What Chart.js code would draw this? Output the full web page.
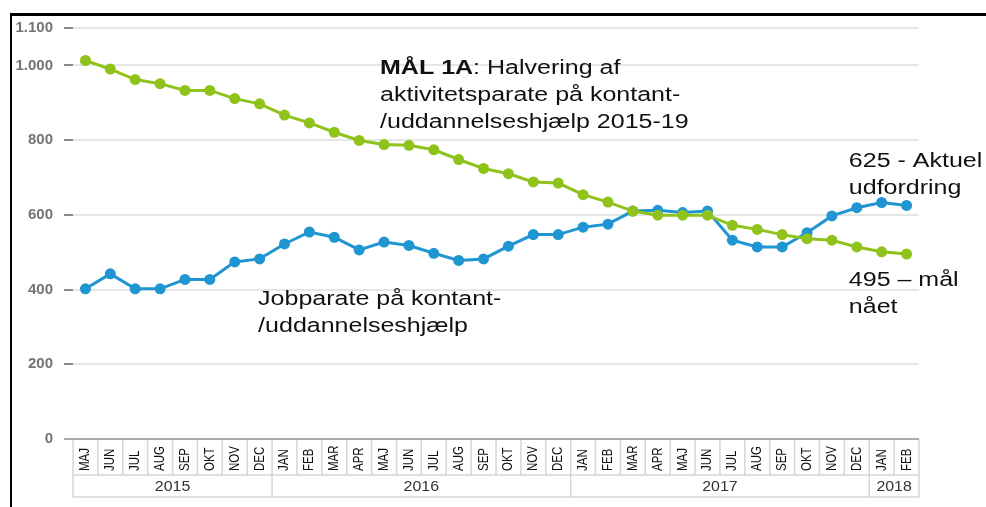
<!DOCTYPE html>
<html>
<head>
<meta charset="utf-8">
<script src="https://cdn.jsdelivr.net/npm/chart.js@4.4.1/dist/chart.umd.min.js"></script>
<style>
    html, body { margin: 0; padding: 0; background: #fff; }
    #wrap { position: relative; width: 986px; height: 507px; }
    #frame { position: absolute; left: 10px; top: 13px; right: 0; bottom: 0;
             border-left: 2px solid #000; border-top: 3px solid #000; pointer-events: none; }
</style>
</head>
<body>
<div id="wrap">
    <canvas id="chart" width="986" height="507"></canvas>
    <div id="frame"></div>
</div>
<script>
// Månedsakse (maj 2015 - feb 2018)
const months = ['MAJ', 'JUN', 'JUL', 'AUG', 'SEP', 'OKT', 'NOV', 'DEC',
    'JAN', 'FEB', 'MAR', 'APR', 'MAJ', 'JUN', 'JUL', 'AUG', 'SEP', 'OKT', 'NOV', 'DEC',
    'JAN', 'FEB', 'MAR', 'APR', 'MAJ', 'JUN', 'JUL', 'AUG', 'SEP', 'OKT', 'NOV', 'DEC',
    'JAN', 'FEB'];
const yearLabels = ['2015', '2016', '2017', '2018'];
const yearSpans = [8, 12, 12, 2];
const yTicks = [0, 200, 400, 600, 800, 1000, 1100];

// Aktivitetsparate (mål-kurven)
const aktivitetsparate = [1013, 990, 962, 951, 933, 933, 911, 897,
    867, 846, 821, 799, 788, 786, 774, 748, 724, 710, 688, 685,
    654, 634, 610, 599, 599, 599, 572, 561, 547, 536, 532, 514,
    501, 495];
// Jobparate
const jobparate = [402, 442, 402, 402, 427, 427, 474, 482,
    522, 554, 540, 506, 527, 518, 497, 478, 482, 516, 547, 547,
    567, 575, 610, 612, 606, 610, 532, 514, 514, 552, 597, 619,
    633, 625];

// Tekstbokse: [månedsindeks, værdi] for første linjes grundlinje
const notes = [
    { at: [11.84, 977], bold: 'MÅL 1A', lines: [': Halvering af', 'aktivitetsparate på kontant-', '/uddannelseshjælp 2015-19'] },
    { at: [6.94, 359], bold: '', lines: ['Jobparate på kontant-', '/uddannelseshjælp'] },
    { at: [30.68, 729], bold: '', lines: ['625 - Aktuel', 'udfordring'] },
    { at: [30.68, 410], bold: '', lines: ['495 – mål', 'nået'] }
];

const FONT = "'Liberation Sans', Arial, sans-serif";
const STRETCH = 1.25;

const fmt = v => String(v).replace(/\B(?=(\d{3})+(?!\d))/g, '.');

const tablePlugin = {
    id: 'monthTable',
    afterDraw(chart) {
        const ctx = chart.ctx;
        const x = chart.scales.x;
        const y = chart.scales.y;
        const area = chart.chartArea;
        const half = (x.getPixelForValue(1) - x.getPixelForValue(0)) / 2;
        const top = y.getPixelForValue(0);
        const mid = top + 36;
        const bot = mid + 22;

        ctx.save();
        // celler
        ctx.strokeStyle = '#d6d6d6';
        ctx.lineWidth = 1.5;
        ctx.beginPath();
        months.forEach((m, i) => {
            const xl = x.getPixelForValue(i) - half;
            ctx.moveTo(xl, top); ctx.lineTo(xl, mid);
        });
        ctx.moveTo(area.right, top); ctx.lineTo(area.right, bot);
        let start = 0;
        yearSpans.forEach(n => {
            const xl = x.getPixelForValue(start) - half;
            ctx.moveTo(xl, mid); ctx.lineTo(xl, bot);
            start += n;
        });
        ctx.moveTo(area.left, mid); ctx.lineTo(area.right, mid);
        ctx.moveTo(area.left, bot); ctx.lineTo(area.right, bot);
        ctx.stroke();

        // nul-linje
        ctx.strokeStyle = '#aaaaaa';
        ctx.lineWidth = 2;
        ctx.beginPath();
        ctx.moveTo(area.left - 9, top); ctx.lineTo(area.right, top);
        ctx.stroke();

        // måneder (lodret tekst)
        ctx.fillStyle = '#111';
        ctx.font = '11.5px ' + FONT;
        ctx.textAlign = 'left';
        ctx.textBaseline = 'middle';
        months.forEach((m, i) => {
            ctx.save();
            ctx.translate(x.getPixelForValue(i), top + 32);
            ctx.scale(STRETCH, 1);
            ctx.rotate(-Math.PI / 2);
            ctx.fillText(m, 0, 0);
            ctx.restore();
        });

        // år
        ctx.fillStyle = '#333';
        ctx.font = '14.5px ' + FONT;
        ctx.textAlign = 'center';
        start = 0;
        yearSpans.forEach((n, k) => {
            const cx = (x.getPixelForValue(start) + x.getPixelForValue(start + n - 1)) / 2;
            ctx.save();
            ctx.translate(cx, (mid + bot) / 2 + 1);
            ctx.scale(1.1, 1);
            ctx.fillText(yearLabels[k], 0, 0);
            ctx.restore();
            start += n;
        });

        // tekstbokse
        ctx.fillStyle = '#111';
        ctx.textAlign = 'left';
        ctx.textBaseline = 'alphabetic';
        notes.forEach(note => {
            const px = x.getPixelForValue(note.at[0]);
            const py = y.getPixelForValue(note.at[1]);
            note.lines.forEach((line, j) => {
                ctx.save();
                ctx.translate(px, py + j * 27);
                ctx.scale(STRETCH, 1);
                let off = 0;
                if (j === 0 && note.bold) {
                    ctx.font = 'bold 20px ' + FONT;
                    ctx.fillText(note.bold, 0, 0);
                    off = ctx.measureText(note.bold).width;
                }
                ctx.font = '20px ' + FONT;
                ctx.fillText(line, off, 0);
                ctx.restore();
            });
        });
        ctx.restore();
    }
};

const chart = new Chart(document.getElementById('chart'), {
    type: 'line',
    data: {
        labels: months,
        datasets: [{
            label: 'Aktivitetsparate',
            data: aktivitetsparate,
            borderColor: '#8fc31b',
            backgroundColor: '#8fc31b',
            borderWidth: 3,
            pointRadius: 5.5,
            pointBorderWidth: 0,
            tension: 0
        }, {
            label: 'Jobparate',
            data: jobparate,
            borderColor: '#1f95d2',
            backgroundColor: '#1f95d2',
            borderWidth: 3,
            pointRadius: 5.5,
            pointBorderWidth: 0,
            tension: 0
        }]
    },
    options: {
        responsive: false,
        animation: false,
        layout: { padding: { left: 0, top: 28, right: 67, bottom: 68 } },
        plugins: {
            legend: { display: false },
            tooltip: { enabled: false }
        },
        scales: {
            x: {
                display: false,
                offset: true
            },
            y: {
                min: 0,
                max: 1100,
                afterBuildTicks: s => { s.ticks = yTicks.map(v => ({ value: v })); },
                afterFit: s => { s.width = 73; },
                border: { display: false },
                grid: {
                    color: '#e6e6e6',
                    lineWidth: 2,
                    tickColor: '#8a8a8a',
                    tickLength: 9
                },
                ticks: {
                    padding: 11,
                    color: '#737373',
                    font: { family: FONT, size: 15, weight: 'bold' },
                    callback: v => fmt(v)
                }
            }
        }
    },
    plugins: [tablePlugin]
});
</script>
</body>
</html>
